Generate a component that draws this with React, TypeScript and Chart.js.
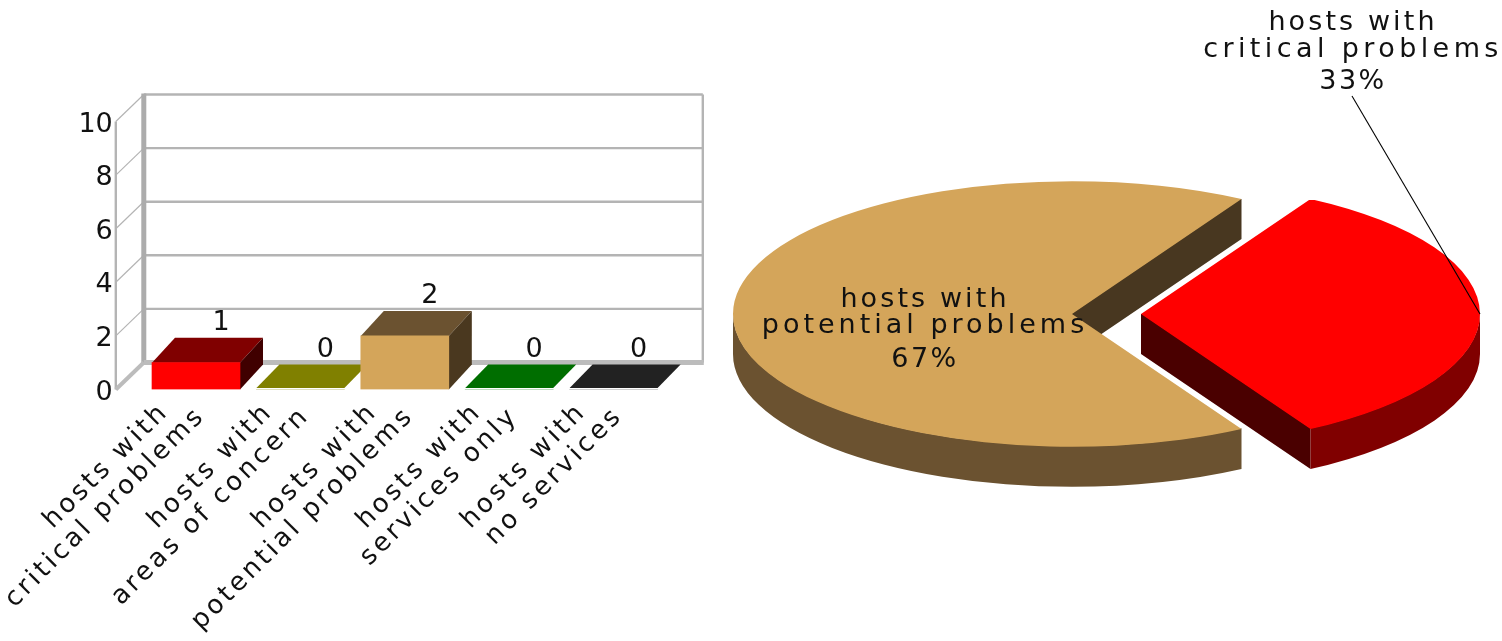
import React, { useEffect, useRef } from "react";
import { Chart, registerables } from "chart.js";

Chart.register(...registerables);

// Host health summary: counts per category and the share of affected hosts.
const categoryFirstLine = ["hosts with", "hosts with", "hosts with", "hosts with", "hosts with"];
const categorySecondLine = ["critical problems", "areas of concern", "potential problems", "services only", "no services"];
const hostCounts = [1, 0, 2, 0, 0];
const yTicks = [0, 2, 4, 6, 8, 10];

const barFront = ["#ff0000", "#808000", "#d4a55a", "#007000", "#404040"];
const barTop = ["#800000", "#808000", "#6b5230", "#006e00", "#222222"];
const barSide = ["#400000", "#808000", "#4a381f", "#006e00", "#222222"];

// Only categories with hosts appear in the pie, biggest share first.
const pieLabels = [["hosts with", "potential problems"], ["hosts with", "critical problems"]];
const pieCounts = [hostCounts[2], hostCounts[0]];
const pieTop = ["#d4a55a", "#ff0000"];
const pieRim = ["#6b5230", "#800000"];
const pieCut = ["#483720", "#4a0000"];
const pieLineSpacing = [[3.1, 4.0, 2.5], [3.1, 4.4, 2.5]];

const GRID = "#b4b4b4";
const TEXT = "#111111";
const FONT = "'DejaVu Sans'";
const WALL_DX = 28;
const WALL_DY = 27;
const BAR_DX = 23;
const BAR_DY = 25;
const PIE_RADIUS = 339;
const PIE_SQUASH = 0.3917;
const PIE_DEPTH = 40;
const PIE_EXPLODE = 138;

// Walls and floor of the box behind the bars, hung off the y scale.
const barBoxPlugin = {
  id: "barBox",
  beforeDatasetsDraw(chart: any) {
    const { ctx, chartArea: a, scales } = chart;
    const y = scales.y;
    const backRight = a.right + 37;
    ctx.save();
    ctx.strokeStyle = GRID;
    ctx.lineWidth = 1.2;
    yTicks.forEach((t) => {
      const p = y.getPixelForValue(t);
      if (t === 0) return;
      ctx.beginPath();
      ctx.moveTo(a.left - WALL_DX, p);
      ctx.lineTo(a.left, p - WALL_DY);
      ctx.stroke();
    });
    ctx.lineWidth = 2.4;
    yTicks.forEach((t) => {
      const p = y.getPixelForValue(t) - WALL_DY;
      ctx.beginPath();
      ctx.moveTo(a.left, p);
      ctx.lineTo(backRight, p);
      ctx.stroke();
    });
    ctx.beginPath();
    ctx.moveTo(a.left - WALL_DX, y.getPixelForValue(10));
    ctx.lineTo(a.left - WALL_DX, y.getPixelForValue(0));
    ctx.stroke();
    ctx.beginPath();
    ctx.moveTo(backRight, y.getPixelForValue(10) - WALL_DY);
    ctx.lineTo(backRight, y.getPixelForValue(0) - WALL_DY);
    ctx.stroke();
    // Heavier back edge and floor lines.
    ctx.strokeStyle = "#acacac";
    ctx.lineWidth = 5;
    ctx.beginPath();
    ctx.moveTo(a.left, y.getPixelForValue(10) - WALL_DY - 1);
    ctx.lineTo(a.left, y.getPixelForValue(0) - WALL_DY + 2);
    ctx.stroke();
    ctx.strokeStyle = "#bcbcbc";
    ctx.beginPath();
    ctx.moveTo(a.left, y.getPixelForValue(0) - WALL_DY);
    ctx.lineTo(backRight + 1, y.getPixelForValue(0) - WALL_DY);
    ctx.stroke();
    ctx.lineWidth = 4;
    ctx.beginPath();
    ctx.moveTo(a.left - WALL_DX, y.getPixelForValue(0));
    ctx.lineTo(a.left, y.getPixelForValue(0) - WALL_DY);
    ctx.stroke();
    ctx.restore();

    // Tops and sides of the bars; the front faces come from the bar elements.
    const bars = chart.getDatasetMeta(0).data;
    bars.forEach((bar: any, i: number) => {
      const left = bar.x - bar.width / 2;
      const right = bar.x + bar.width / 2;
      const flat = hostCounts[i] === 0;
      const front = flat ? bar.y - 1.5 : bar.y;
      ctx.fillStyle = barTop[i];
      ctx.beginPath();
      ctx.moveTo(left, front);
      ctx.lineTo(left + BAR_DX, bar.y - BAR_DY);
      ctx.lineTo(right + BAR_DX, bar.y - BAR_DY);
      ctx.lineTo(right, front);
      ctx.closePath();
      ctx.fill();
      if (!flat) {
        ctx.fillStyle = barSide[i];
        ctx.beginPath();
        ctx.moveTo(right, bar.y);
        ctx.lineTo(right + BAR_DX, bar.y - BAR_DY);
        ctx.lineTo(right + BAR_DX, bar.base - BAR_DY);
        ctx.lineTo(right, bar.base);
        ctx.closePath();
        ctx.fill();
      }
    });
  },
  afterDatasetsDraw(chart: any) {
    const { ctx } = chart;
    ctx.save();
    ctx.fillStyle = TEXT;
    ctx.font = `27px ${FONT}`;
    ctx.textAlign = "center";
    ctx.textBaseline = "middle";
    chart.getDatasetMeta(0).data.forEach((bar: any, i: number) => {
      ctx.fillText(String(hostCounts[i]), bar.x + 25, bar.y - 39.5);
    });
    ctx.restore();
    // The x labels draw after this point and use a wider tracking.
    ctx.letterSpacing = "3.2px";
  },
  afterDraw(chart: any) {
    chart.ctx.letterSpacing = "0px";
  },
};

// Extruded elliptical pie: the arcs are squashed onto the floor plane.
const piePlugin = {
  id: "pieDepth",
  afterDatasetUpdate(chart: any) {
    // Chart.js grows exploded arcs by a sweep-dependent amount and trims their
    // angle in proportion; undo both so every slice keeps its true size and sweep.
    chart.getDatasetMeta(0).data.forEach((arc: any) => {
      const sweep = arc.endAngle - arc.startAngle;
      const grow = (PIE_EXPLODE / 4) * (1 - Math.sin(Math.min(Math.PI, sweep)));
      const trim = grow / (2 * Math.PI * PIE_RADIUS);
      arc.outerRadius = PIE_RADIUS - grow;
      arc.startAngle -= trim;
      arc.endAngle += trim;
      arc.sweepTrim = trim;
    });
  },
  beforeDatasetsDraw(chart: any) {
    const { ctx } = chart;
    const b = PIE_RADIUS * PIE_SQUASH;
    chart.getDatasetMeta(0).data.forEach((arc: any, i: number) => {
      const s = arc.startAngle + arc.sweepTrim;
      const e = arc.endAngle - arc.sweepTrim;
      const mid = (s + e) / 2;
      const cx = arc.x + (Math.cos(mid) * PIE_EXPLODE) / 4;
      const cy = arc.y + (Math.sin(mid) * PIE_EXPLODE * PIE_SQUASH) / 4;
      // Tuck the upper edges under the slice's top face so no seam shows between them.
      const tuckX = Math.cos(mid) * 1.5;
      // Radial cut faces that look towards the viewer.
      const cut = (angle: number) => {
        const px = cx + Math.cos(angle) * PIE_RADIUS;
        const py = cy + Math.sin(angle) * b;
        ctx.fillStyle = pieCut[i];
        ctx.beginPath();
        ctx.moveTo(cx + tuckX, cy);
        ctx.lineTo(px + tuckX, py);
        ctx.lineTo(px, py);
        ctx.lineTo(px, py + PIE_DEPTH);
        ctx.lineTo(cx, cy + PIE_DEPTH);
        ctx.lineTo(cx, cy);
        ctx.closePath();
        ctx.fill();
      };
      if (Math.cos(e) > 0) cut(e);
      if (Math.cos(s) < 0) cut(s);
      // Outer rim: the part of the sweep on the near half of the ellipse.
      for (const k of [0, 2]) {
        const from = Math.max(s, k * Math.PI);
        const to = Math.min(e, (k + 1) * Math.PI);
        if (to <= from) continue;
        ctx.fillStyle = pieRim[i];
        ctx.beginPath();
        ctx.ellipse(cx, cy - 0.7, PIE_RADIUS, b, 0, from, to);
        ctx.ellipse(cx, cy + PIE_DEPTH, PIE_RADIUS, b, 0, to, from, true);
        ctx.closePath();
        ctx.fill();
      }
    });
    const first = chart.getDatasetMeta(0).data[0];
    ctx.save();
    ctx.translate(first.x, first.y);
    ctx.scale(1, PIE_SQUASH);
    ctx.translate(-first.x, -first.y);
  },
  afterDatasetsDraw(chart: any) {
    const { ctx } = chart;
    ctx.restore();
    const [major, minor] = chart.getDatasetMeta(0).data;
    const total = pieCounts.reduce((sum, v) => sum + v, 0);
    const apexY = major.y;
    const rimX = minor.x + PIE_EXPLODE / 4 + PIE_RADIUS;
    const majorX = major.x - PIE_EXPLODE / 4 - 147;
    const minorX = rimX - 127;

    ctx.save();
    ctx.strokeStyle = "#000000";
    ctx.lineWidth = 1.1;
    ctx.beginPath();
    ctx.moveTo(minorX - 1, 96);
    ctx.lineTo(rimX, apexY);
    ctx.stroke();

    const block = (i: number, x: number, baselines: number[]) => {
      const lines = [...pieLabels[i], `${Math.round((pieCounts[i] / total) * 100)}%`];
      ctx.fillStyle = TEXT;
      ctx.font = `27px ${FONT}`;
      ctx.textAlign = "center";
      ctx.textBaseline = "alphabetic";
      lines.forEach((line, j) => {
        ctx.letterSpacing = `${pieLineSpacing[i][j]}px`;
        ctx.fillText(line, x, baselines[j]);
      });
      ctx.letterSpacing = "0px";
    };
    block(0, majorX, [apexY - 7, apexY + 19, apexY + 53]);
    block(1, minorX, [30, 57, 89]);
    ctx.restore();
  },
};

export default function App() {
  const barRef = useRef<HTMLCanvasElement>(null);
  const pieRef = useRef<HTMLCanvasElement>(null);

  useEffect(() => {
    const barChart = new Chart(barRef.current!, {
      type: "bar",
      data: {
        labels: categorySecondLine,
        datasets: [{ data: hostCounts, backgroundColor: barFront, barThickness: 88 }],
      },
      plugins: [barBoxPlugin],
      options: {
        responsive: false,
        animation: false,
        layout: { padding: { top: 121.5, right: 54.2, left: 0, bottom: 0 } },
        plugins: { legend: { display: false }, tooltip: { enabled: false } },
        scales: {
          x: {
            grid: { display: false, drawTicks: false },
            border: { display: false },
            afterFit(scale: any) {
              scale.height = 251.5;
              scale.paddingLeft = 0;
              scale.paddingRight = 0;
            },
            ticks: {
              z: 1,
              autoSkip: false,
              minRotation: 45,
              maxRotation: 45,
              padding: -8,
              labelOffset: -15,
              color: TEXT,
              font: { family: FONT, size: 26, lineHeight: 1.1 },
              // The short first line sits a little back from the end of the long one.
              callback: (_v: any, i: number) => [`${categoryFirstLine[i]}  `, categorySecondLine[i]],
            },
          },
          y: {
            min: 0,
            max: 10,
            grid: { display: false, drawTicks: false },
            border: { display: false },
            afterFit(scale: any) {
              scale.width = 143.8;
              scale.paddingTop = 0;
              scale.paddingBottom = 0;
            },
            afterBuildTicks(scale: any) {
              scale.ticks = yTicks.map((value) => ({ value }));
            },
            ticks: {
              padding: 31,
              labelOffset: 3,
              color: TEXT,
              font: { family: FONT, size: 27 },
            },
          },
        },
      },
    });

    const pieChart = new Chart(pieRef.current!, {
      type: "pie",
      data: {
        labels: pieLabels.map((l) => l.join(" ")),
        datasets: [
          {
            data: pieCounts,
            backgroundColor: pieTop,
            borderWidth: 0,
            offset: PIE_EXPLODE,
            radius: PIE_RADIUS,
            clip: false,
          } as any,
        ],
      },
      plugins: [piePlugin],
      options: {
        responsive: false,
        animation: false,
        rotation: 150,
        layout: { padding: { right: 9, bottom: 13 } },
        plugins: { legend: { display: false }, tooltip: { enabled: false } },
      },
    });

    return () => {
      barChart.destroy();
      pieChart.destroy();
    };
  }, []);

  return (
    <div style={{ position: "absolute", left: 0, top: 0, width: 1502, height: 641, background: "#ffffff" }}>
      <canvas ref={barRef} width={720} height={641} style={{ position: "absolute", left: 0, top: 0 }} />
      <canvas ref={pieRef} width={782} height={641} style={{ position: "absolute", left: 720, top: 0 }} />
    </div>
  );
}
